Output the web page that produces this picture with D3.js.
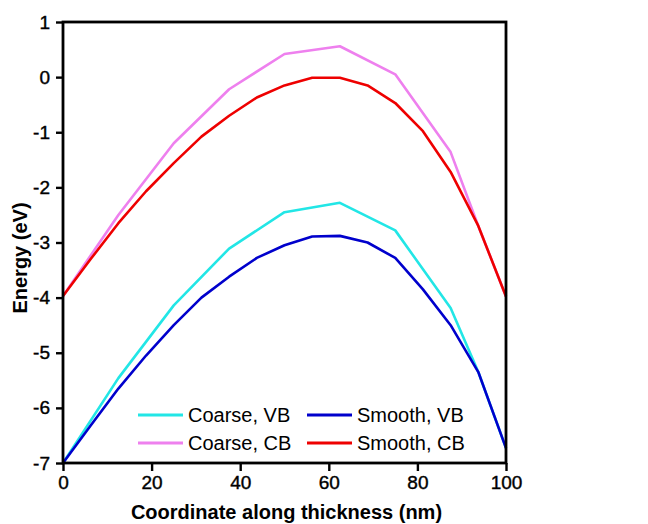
<!DOCTYPE html>
<html>
<head>
<meta charset="utf-8">
<script src="https://cdn.jsdelivr.net/npm/d3@7"></script>
<style>
  body { margin: 0; background: #fff; }
  svg { font-family: "Liberation Sans", Arial, sans-serif; }
</style>
</head>
<body>
<div id="chart"></div>
<script>
// x positions (nm)
var xCoarse = [0, 12.5, 25, 37.5, 50, 62.5, 75, 87.5, 93.75, 100];
var xSmooth = [0, 6.25, 12.5, 18.75, 25, 31.25, 37.5, 43.75, 50, 56.25, 62.5, 68.75, 75, 81.25, 87.5, 93.75, 100];

// energies (eV)
var coarseVB = [-7, -5.46, -4.14, -3.11, -2.45, -2.28, -2.78, -4.19, -5.35, -6.73];
var coarseCB = [-3.97, -2.5, -1.2, -0.22, 0.42, 0.56, 0.05, -1.36, -2.7, -3.98];
var smoothVB = [-7, -6.32, -5.65, -5.05, -4.5, -4.0, -3.62, -3.28, -3.05, -2.89, -2.88, -3.0, -3.28, -3.85, -4.5, -5.35, -6.73];
var smoothCB = [-3.97, -3.3, -2.65, -2.07, -1.56, -1.08, -0.7, -0.37, -0.15, -0.01, -0.01, -0.15, -0.47, -0.98, -1.72, -2.7, -3.98];

var xTicks = [0, 20, 40, 60, 80, 100];
var yTicks = [1, 0, -1, -2, -3, -4, -5, -6, -7];

var series = [
  {name: 'Coarse, VB', xs: xCoarse, ys: coarseVB, color: '#22e6e6'},
  {name: 'Coarse, CB', xs: xCoarse, ys: coarseCB, color: '#ee80ee'},
  {name: 'Smooth, VB', xs: xSmooth, ys: smoothVB, color: '#0000cc'},
  {name: 'Smooth, CB', xs: xSmooth, ys: smoothCB, color: '#ee0000'}
];

var width = 648, height = 524;
var margin = {left: 63, right: 142, top: 22, bottom: 61};

var svg = d3.select('#chart').append('svg')
  .attr('width', width)
  .attr('height', height);

var x = d3.scaleLinear().domain([0, 100]).range([margin.left, width - margin.right]);
var y = d3.scaleLinear().domain([-7, 1]).range([height - margin.bottom, margin.top]);

var line = d3.line()
  .x(function(d) { return x(d[0]); })
  .y(function(d) { return y(d[1]); });

// curves
svg.append('g').selectAll('path')
  .data(series)
  .enter().append('path')
  .attr('d', function(s) { return line(s.xs.map(function(v, i) { return [v, s.ys[i]]; })); })
  .attr('fill', 'none')
  .attr('stroke', function(s) { return s.color; })
  .attr('stroke-width', 2.6)
  .attr('stroke-linejoin', 'round');

// frame
svg.append('rect')
  .attr('x', x(0)).attr('y', y(1))
  .attr('width', x(100) - x(0)).attr('height', y(-7) - y(1))
  .attr('fill', 'none').attr('stroke', '#000').attr('stroke-width', 2.8);

// plain hyphen for negatives, like the original
var fmt = function(d) { return String(d); };

// x axis
var xAxis = svg.append('g').attr('transform', 'translate(0,' + y(-7) + ')');
xAxis.call(d3.axisBottom(x).tickValues(d3.range(10, 100, 20)).tickSize(5).tickFormat(''));
xAxis.call(d3.axisBottom(x).tickValues(xTicks).tickSize(8).tickPadding(5).tickFormat(fmt));

// y axis
var yAxis = svg.append('g').attr('transform', 'translate(' + x(0) + ',0)');
yAxis.call(d3.axisLeft(y).tickValues(d3.range(-6.5, 1, 1)).tickSize(5).tickFormat(''));
yAxis.call(d3.axisLeft(y).tickValues(yTicks).tickSize(7).tickPadding(6).tickFormat(fmt));

svg.selectAll('.domain').remove();
svg.selectAll('.tick line').attr('stroke', '#000').attr('stroke-width', 2.4);
svg.selectAll('.tick text')
  .attr('fill', '#000')
  .attr('stroke', '#000')
  .attr('stroke-width', 0.4)
  .style('font-size', '19px');

// axis titles
svg.append('text')
  .attr('x', (x(0) + x(100)) / 2 + 2)
  .attr('y', 519)
  .attr('text-anchor', 'middle')
  .style('font-size', '20px')
  .style('font-weight', 'bold')
  .text('Coordinate along thickness (nm)');

svg.append('text')
  .attr('transform', 'translate(27,258) rotate(-90)')
  .attr('text-anchor', 'middle')
  .style('font-size', '20px')
  .style('font-weight', 'bold')
  .text('Energy (eV)');

// legend
var legendPos = [
  {lx: 138, ly: 415},
  {lx: 138, ly: 443},
  {lx: 307, ly: 415},
  {lx: 307, ly: 443}
];

var legend = svg.append('g').selectAll('g')
  .data(series)
  .enter().append('g')
  .attr('transform', function(d, i) { return 'translate(' + legendPos[i].lx + ',' + legendPos[i].ly + ')'; });

legend.append('line')
  .attr('x1', 0).attr('x2', 45)
  .attr('stroke', function(d) { return d.color; })
  .attr('stroke-width', 3);

legend.append('text')
  .attr('x', 50)
  .attr('dy', '0.35em')
  .style('font-size', '20px')
  .text(function(d) { return d.name; });
</script>
</body>
</html>
